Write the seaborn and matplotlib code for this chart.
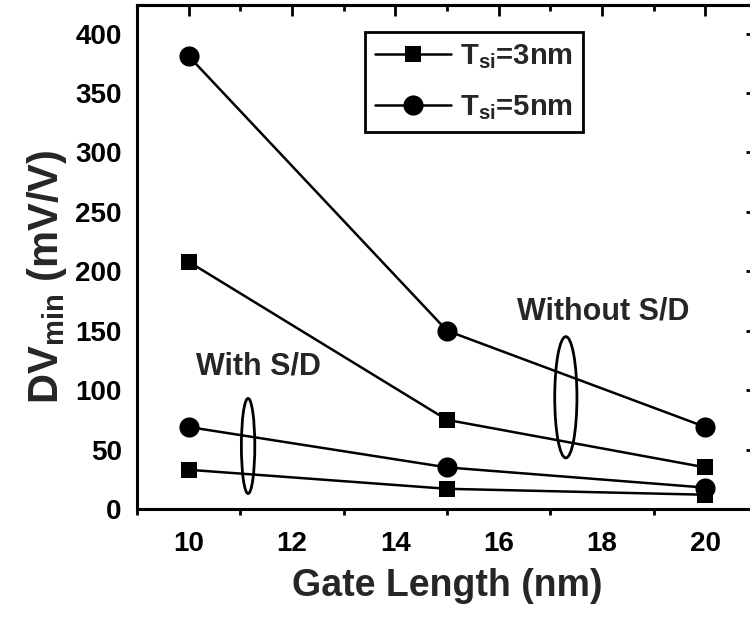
import matplotlib
matplotlib.use("Agg")
import matplotlib.pyplot as plt
import seaborn as sns
import pandas as pd
from matplotlib.patches import Ellipse
from matplotlib.ticker import MultipleLocator

gate_length = [10, 15, 20]
tsi3_without = [208, 75, 35]
tsi5_without = [381, 150, 69]
tsi3_with = [33, 17, 12]
tsi5_with = [69, 35, 18]
x_ticks = [10, 12, 14, 16, 18, 20]
y_ticks = [0, 50, 100, 150, 200, 250, 300, 350, 400]

sns.set_theme(style="white")
plt.rcParams['font.family'] = ['Liberation Sans', 'DejaVu Sans']
plt.rcParams['font.weight'] = 'bold'
plt.rcParams['mathtext.fontset'] = 'custom'
plt.rcParams['mathtext.rm'] = 'Liberation Sans:bold'
plt.rcParams['mathtext.it'] = 'Liberation Sans:bold'
plt.rcParams['mathtext.bf'] = 'Liberation Sans:bold'
plt.rcParams['mathtext.default'] = 'rm'

fig = plt.figure(figsize=(7.5, 6.19), dpi=100)
ax = fig.add_axes([137/750, 1-509/619, (757-137)/750, (509-5)/619])

lw = 1.8
series = [
    (tsi3_without, 's', 12, r"$T_{si}$=3nm"),
    (tsi5_without, 'o', 14.5, r"$T_{si}$=5nm"),
    (tsi3_with, 's', 12, None),
    (tsi5_with, 'o', 14.5, None),
]
for vals, mk, ms, lab in series:
    df = pd.DataFrame({"x": gate_length, "y": vals})
    sns.lineplot(data=df, x="x", y="y", ax=ax, color='black', lw=lw,
                 marker=mk, markersize=ms, markeredgewidth=0,
                 label=lab if lab else "_nolegend_", legend=False)

ax.set_xlim(9, 21)
ax.set_ylim(0, 424)
ax.set_xticks(x_ticks)
ax.set_yticks(y_ticks)
ax.xaxis.set_minor_locator(MultipleLocator(1))
ax.tick_params(axis='both', which='major', direction='out', length=8, width=2,
               labelsize=20, color='black', labelcolor='black', pad=3)
ax.tick_params(axis='x', which='major', pad=8)
ax.tick_params(axis='x', which='minor', direction='out', length=4, width=2, color='black', bottom=True)
for lbl in ax.get_xticklabels() + ax.get_yticklabels():
    lbl.set_fontweight('bold')
for s in ax.spines.values():
    s.set_linewidth(2.2)
    s.set_color('black')

top = ax.secondary_xaxis('top')
top.set_xticks(x_ticks)
top.xaxis.set_minor_locator(MultipleLocator(1))
top.tick_params(axis='x', which='major', direction='in', length=8, width=2, labeltop=False, color='black')
top.tick_params(axis='x', which='minor', direction='in', length=4, width=2, color='black')
top.spines['top'].set_linewidth(2.2)
right = ax.secondary_yaxis('right')
right.set_yticks(y_ticks)
right.tick_params(axis='y', which='major', direction='in', length=8, width=2, labelright=False, color='black')
right.spines['right'].set_linewidth(2.2)

ax.set_xlabel("Gate Length (nm)", fontsize=27, fontweight='bold', labelpad=8)
ax.set_ylabel(r"DV$_{min}$ (mV/V)", fontsize=30, fontweight='bold', labelpad=6)
ax.yaxis.set_label_coords(-0.11, 0.46)

ax.add_patch(Ellipse((11.15, 53), 0.26, 80, fill=False, ec='black', lw=2))
ax.add_patch(Ellipse((17.3, 94), 0.43, 102, fill=False, ec='black', lw=2))
ax.text(10.15, 120, "With S/D", fontsize=22, fontweight='bold', ha='left', va='center')
ax.text(16.35, 166, "Without S/D", fontsize=22, fontweight='bold', ha='left', va='center')

h, l = ax.get_legend_handles_labels()
leg = fig.legend(h, l, loc='upper left', bbox_to_anchor=(365/750, 1-32/619),
                 fontsize=21, frameon=True, fancybox=False, framealpha=1,
                 edgecolor='black', handlelength=2.6, borderpad=0.35, labelspacing=0.75,
                 handletextpad=0.3, borderaxespad=0)
leg.get_frame().set_linewidth(2)

fig.savefig("out.png", dpi=100)
